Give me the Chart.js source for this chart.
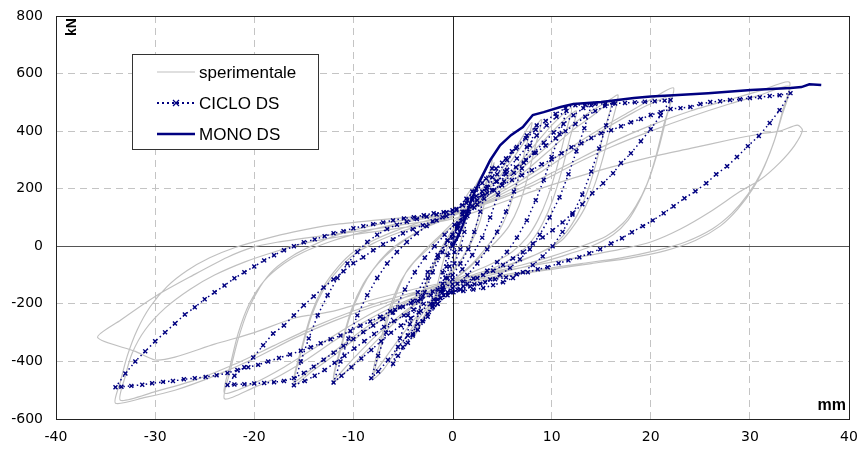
<!DOCTYPE html>
<html><head><meta charset="utf-8">
<script src="https://cdn.jsdelivr.net/npm/chart.js@4.4.1/dist/chart.umd.min.js"></script>
<style>html,body{margin:0;padding:0;background:#fff}#wrap{width:864px;height:460px}</style>
</head><body><div id="wrap"><canvas id="c" width="864" height="460"></canvas></div>
<script>
const xTicks = [-40,-30,-20,-10,0,10,20,30,40];
const yTicks = [-600,-400,-200,0,200,400,600,800];
const seriesNames = ["sperimentale","CICLO DS","MONO DS"];
const axisUnits = ["mm","kN"];

const monoDS = [[0,0],[0.5,30],[1,70],[1.5,120],[2,170],[2.8,230],[3.8,299],[4.8,351],[5.9,386],[7.1,414],[8.1,456],[9.2,466],[10.9,484],[12.2,494],[15,501],[18.3,515],[20,520],[22.3,525],[25.8,532],[30.1,543],[34.1,550],[35.2,553],[36,563],[37.2,560]];

const cicloDS = [
[0,0],[0.5,60],[1,110],
[0.6,40],[0.2,-20],[-0.3,-70],[-0.7,-110],[-1,-130],
[-0.6,-70],[0,10],[0.5,70],[1,120],[1.5,160],[2,190],
[1.6,120],[1.2,50],[0.8,-10],[0.2,-60],[-0.5,-110],[-1,-150],[-1.5,-185],[-2,-212],
[-1.5,-150],[-1,-90],[-0.5,-30],[0,30],[0.6,80],[1.2,120],[2,165],[3,220],[4,270],
[3.4,200],[2.8,120],[2.2,50],[1.6,-10],[0.8,-60],[0,-100],[-1,-150],[-2,-200],[-3,-260],[-4,-310],
[-3.4,-230],[-2.8,-160],[-2,-90],[-1,-20],[0,40],[1,90],[2,140],[3,190],[4,240],[5,290],[6,330],
[5.3,260],[4.6,180],[3.8,100],[3,30],[2,-30],[1,-80],[0,-115],[-1,-160],[-2,-210],[-3,-260],[-4,-305],[-5,-350],
[-4.3,-270],[-3.5,-190],[-2.5,-110],[-1.5,-40],[-0.5,20],[0.5,70],[1.5,115],[2.5,160],[3.5,205],[4.5,250],[5.5,300],[6.5,345],[7.5,385],[8.5,420],
[7.8,350],[7,270],[6.2,190],[5.4,120],[4.5,50],[3.5,-10],[2.5,-60],[1.5,-100],[0.5,-130],[-0.5,-160],[-1.5,-200],[-2.5,-245],[-3.5,-290],[-4.5,-335],[-5.5,-380],[-6,-408],
[-5.3,-320],[-4.5,-240],[-3.5,-160],[-2.5,-90],[-1.5,-30],[-0.5,20],[0.5,65],[1.5,105],[2.5,145],[3.5,185],[4.5,225],[5.5,265],[6.5,305],[7.5,345],[8.5,385],[9.5,420],[10.5,450],[11.5,470],
[10.8,390],[10,310],[9.2,230],[8.4,160],[7.5,90],[6.5,30],[5.5,-20],[4.5,-55],[3.5,-85],[2.5,-110],[1.5,-130],[0.5,-150],[-0.5,-170],[-1.5,-200],[-2.5,-235],[-3.5,-270],[-4.5,-310],[-5.5,-350],[-6.5,-395],[-7.5,-435],[-8.2,-458],
[-7.5,-380],[-6.7,-300],[-5.8,-220],[-4.8,-150],[-3.8,-90],[-2.8,-40],[-1.8,0],[-0.8,40],[0.2,75],[1.2,105],[2.2,135],[3.2,165],[4.2,195],[5.2,225],[6.2,255],[7.2,290],[8.2,325],[9.2,360],[10.2,395],[11.2,425],[12.2,455],[13.2,480],[14,490],
[13.3,410],[12.5,330],[11.7,250],[10.8,170],[9.8,100],[8.8,40],[7.8,-10],[6.8,-45],[5.8,-75],[4.8,-100],[3.8,-115],[2.8,-130],[1.8,-140],[0.8,-150],[-0.2,-160],[-1.2,-180],[-2.2,-200],[-3.2,-225],[-4.2,-250],[-5.2,-275],[-6.2,-300],[-7.2,-330],[-8.2,-360],[-9.2,-390],[-10.2,-420],[-11.2,-450],[-12,-473],
[-11.3,-400],[-10.5,-320],[-9.6,-240],[-8.6,-170],[-7.6,-110],[-6.6,-60],[-5.6,-20],[-4.6,15],[-3.6,45],[-2.6,70],[-1.6,90],[-0.6,105],[0.4,125],[1.4,150],[2.4,175],[3.4,200],[4.4,225],[5.4,250],[6.4,275],[7.4,300],[8.4,325],[9.4,350],[10.4,375],[11.4,400],[12.4,425],[13.4,450],[14.4,470],[15.4,487],[16.2,497],
[15.5,420],[14.8,340],[14,260],[13.1,180],[12.1,110],[11.1,50],[10.1,0],[9.1,-35],[8.1,-65],[7.1,-90],[6.1,-110],[5.1,-125],[4.1,-135],[3.1,-145],[2.1,-150],[1.1,-155],[0.1,-160],[-0.9,-170],[-1.9,-185],[-2.9,-200],[-3.9,-220],[-4.9,-240],[-5.9,-260],[-6.9,-280],[-7.9,-305],[-8.9,-330],[-9.9,-355],[-10.9,-380],[-11.9,-405],[-12.9,-430],[-13.9,-450],[-14.9,-468],[-16,-483],
[-15.3,-400],[-14.5,-320],[-13.6,-240],[-12.6,-170],[-11.6,-110],[-10.6,-60],[-9.6,-20],[-8.6,15],[-7.6,40],[-6.6,60],[-5.6,75],[-4.6,85],[-3.6,95],[-2.6,103],[-1.6,110],[-0.6,118],[0.4,130],[1.4,165],[2.4,200],[3.4,235],[4.4,270],[5.4,305],[6.4,340],[7.4,375],[8.4,405],[9.4,435],[10.4,460],[11.4,480],[12.4,490],[13.4,492],[14.4,494],[15.4,495],[16.4,496],[17.4,498],[18.4,500],[19.4,502],[20.4,504],[21.4,506],[22,508],
[21,455],[20,407],[19,365],[18,323],[17,289],[16.2,254],[15.2,219],[14.1,184],[13.1,146],[12.1,115],[11.1,83],[10.1,56],[9.1,31],[8.1,10],[7.1,-21],[6.1,-42],[5.1,-65],[4.1,-85],[3.1,-100],[2.1,-112],[1.1,-122],[0,-132],[-1,-143],[-2,-157],[-3,-172],[-4,-190],[-5,-210],[-6,-230],[-7,-252],[-8,-275],[-9,-298],[-10,-322],[-11,-346],[-12,-370],[-13,-394],[-14,-418],[-15,-440],[-16,-458],[-17,-468],[-18,-472],[-19,-475],[-20,-477],[-21,-479],[-22,-480],[-22.7,-482],
[-22,-450],[-21,-420],[-20.1,-386],[-19.1,-344],[-18.1,-303],[-17,-275],[-16,-240],[-15,-205],[-14,-174],[-13,-143],[-12,-115],[-11,-87],[-10,-59],[-9,-38],[-8,-14],[-7,7],[-6,24],[-5,45],[-4,59],[-3,73],[-2,87],[-1,101],[0,115],[1,143],[2,160],[3,177],[4,195],[5,212],[6,230],[7,247],[8,264],[9,285],[10,302],[11,323],[12,344],[13,358],[14,376],[15,393],[16,403],[17,417],[18,431],[19,442],[20,456],[21,466],[22,477],[23,480],[24,484],[25,494],[26,501],[27,504],[28,508],[29,511],[30,515],[31,518],[32,522],[33,525],[34.1,532],
[33,473],[32,428],[30.9,383],[29.8,348],[28.7,310],[27.7,278],[26.6,250],[25.6,219],[24.5,191],[23.4,167],[22.3,139],[21.3,115],[20.2,90],[19.2,70],[18.1,49],[17.1,28],[16,10],[14.9,-10],[13.8,-24],[12.8,-38],[11.7,-49],[10.7,-59],[9.6,-73],[8.6,-80],[7.6,-90],[6.5,-97],[5.4,-108],[4.3,-115],[3.3,-125],[2.2,-132],[1.1,-139],[0,-146],[-1.2,-157],[-2.2,-170],[-3.2,-184],[-4.2,-198],[-5.3,-212],[-6.3,-226],[-7.3,-245],[-8.3,-261],[-9.3,-276],[-10.3,-294],[-11.3,-310],[-12.3,-323],[-13.3,-337],[-14.3,-351],[-15.3,-363],[-16.4,-376],[-17.5,-388],[-18.6,-400],[-19.6,-412],[-20.6,-420],[-21.7,-430],[-22.7,-440],[-23.8,-448],[-24.9,-454],[-26,-458],[-27.1,-462],[-28.2,-468],[-29.2,-471],[-30.3,-476],[-31.3,-481],[-32.4,-485],[-33.4,-488],[-34,-490],
[-33,-442],[-32,-400],[-31,-365],[-30,-330],[-29,-299],[-28,-268],[-27,-237],[-26,-212],[-25,-184],[-24,-160],[-23,-136],[-22,-111],[-21,-90],[-20,-70],[-19,-49],[-18,-31],[-17,-14],[-16,0],[-15,14],[-13.9,24],[-12.9,35],[-12,45],[-11,52],[-10,63],[-9,70],[-8,77],[-7,83],[-6,90],[-4.9,97],[-3.9,101],[-2.9,108],[-1.9,115],[-0.9,118],[0,125]
];

const sperimentale = [
[0,0],[0.5,80],[1,140],[1.5,180],[2,200],[1.5,120],[1,40],[0.5,-20],[0,-70],[-1,-140],[-2,-210],
[-1.5,-130],[-1,-60],[-0.5,0],[0,50],[1,120],[2,190],[3,250],[4,300],
[3.3,200],[2.6,100],[2,30],[1,-40],[0,-90],[-1,-140],[-2,-200],[-3,-260],[-4,-320],
[-3.3,-220],[-2.5,-120],[-1.5,-40],[-0.5,20],[0.5,70],[1.5,120],[2.5,170],[3.5,230],[4.2,290],
[3.5,190],[2.8,90],[2,20],[1,-40],[0,-85],[-1,-135],[-2,-190],[-3,-250],[-4,-310],
[-3.3,-210],[-2.5,-110],[-1.5,-30],[-0.5,30],[0.5,80],[2,140],[4,220],[6,320],[8,430],
[7.3,330],[6.5,220],[5.7,130],[4.8,60],[3.5,0],[2,-60],[0,-120],[-2,-190],[-4,-280],[-6,-380],[-7,-430],[-8,-460],
[-7.3,-360],[-6.5,-250],[-5.5,-150],[-4.5,-80],[-3,-20],[-1.5,30],[0,80],[2,140],[4,210],[6,300],[8,400],[9,440],
[8.3,340],[7.5,230],[6.7,140],[5.7,70],[4.5,20],[3,-30],[1.5,-80],[0,-120],[-2,-180],[-4,-260],[-6,-350],[-8,-440],
[-7.2,-320],[-6.3,-210],[-5.2,-120],[-4,-60],[-2.5,-10],[-1,40],[0.5,85],[2,130],[4,190],[6,260],[8,340],[10,420],[12,480],
[11.3,380],[10.5,270],[9.6,170],[8.6,90],[7.5,30],[6,-20],[4,-60],[2,-90],[0,-120],[-2,-160],[-4,-210],[-6,-270],[-8,-340],[-10,-410],[-12,-470],
[-11.2,-350],[-10.3,-240],[-9.2,-150],[-8,-80],[-6.5,-20],[-5,20],[-3,60],[-1,90],[1,120],[3,165],[5,220],[7,290],[9,360],[11,430],[12.5,470],
[11.8,370],[11,260],[10.1,160],[9.1,80],[8,20],[6.5,-30],[4.5,-70],[2,-100],[0,-125],[-2,-160],[-4,-205],[-6,-260],[-8,-320],[-10,-390],[-12,-460],
[-11.2,-340],[-10.2,-220],[-9,-130],[-7.5,-60],[-6,-10],[-4,40],[-2,80],[0,105],[2,140],[4,185],[6,240],[8,300],[10,360],[12,420],[14,470],[15.5,500],[16.7,525],
[16,420],[15.2,310],[14.3,210],[13.3,130],[12.2,70],[11,20],[9,-20],[6,-60],[3,-95],[0,-125],[-3,-170],[-6,-230],[-9,-300],[-12,-380],[-14,-430],[-16,-480],
[-15.2,-360],[-14.2,-240],[-13,-150],[-11.5,-80],[-10,-30],[-8,10],[-6,40],[-4,65],[-2,85],[0,105],[2,135],[4,175],[6,225],[8,280],[10,340],[12,400],[14,450],[16,500],
[15.3,400],[14.5,290],[13.6,190],[12.6,110],[11.5,50],[10,0],[7,-50],[4,-85],[1,-115],[-2,-150],[-5,-200],[-8,-265],[-11,-340],[-14,-420],[-16,-470],
[-15.2,-350],[-14.2,-230],[-13,-140],[-11.5,-70],[-10,-20],[-8,20],[-6,50],[-4,75],[-2,95],[0,115],[3,155],[6,210],[9,275],[12,345],[15,410],[18,470],[20,510],[22.3,550],
[21.6,450],[20.8,340],[19.9,240],[18.9,160],[17.7,90],[16.2,40],[14,0],[11,-35],[8,-65],[5,-90],[2,-115],[0,-130],[-3,-165],[-6,-210],[-9,-265],[-12,-330],[-15,-400],[-18,-460],[-20,-490],[-23,-530],
[-22.4,-430],[-21.6,-320],[-20.6,-220],[-19.4,-140],[-18,-80],[-16,-30],[-14,5],[-12,35],[-9,65],[-6,85],[-3,100],[0,115],[3,150],[6,200],[9,260],[12,330],[15,400],[18,460],[20,495],[22,520],
[21.3,420],[20.5,310],[19.6,215],[18.5,140],[17.2,80],[15.5,35],[13,0],[10,-35],[7,-65],[4,-90],[1,-115],[-2,-140],[-5,-180],[-8,-230],[-11,-290],[-14,-355],[-17,-420],[-20,-475],[-23,-510],
[-22.4,-410],[-21.6,-300],[-20.5,-200],[-19,-120],[-17,-60],[-15,-20],[-12,20],[-9,50],[-6,75],[-3,95],[0,115],[4,160],[8,220],[12,290],[16,360],[20,420],[24,470],[28,510],[31,540],[34,570],
[33.3,470],[32.5,370],[31.5,280],[30.3,200],[28.8,130],[27,70],[24.5,20],[21.5,-15],[18,-40],[14,-60],[10,-80],[6,-100],[2,-125],[0,-140],[-4,-170],[-8,-210],[-12,-260],[-16,-320],[-20,-390],[-24,-450],[-28,-500],[-31,-525],[-34,-545],
[-33.5,-470],[-32.8,-380],[-31.8,-290],[-30.5,-210],[-28.8,-140],[-26.8,-85],[-24.5,-40],[-22,-5],[-19,25],[-16,50],[-12,75],[-8,90],[-4,102],[0,112],[4,155],[8,210],[12,280],[16,345],[20,400],[24,450],[28,495],[31,525],[34,555],
[33.2,450],[32.3,350],[31.2,260],[29.8,180],[28.2,115],[26.2,60],[23.5,15],[20.5,-15],[17,-40],[13,-60],[9,-80],[5,-100],[1,-125],[-2,-145],[-6,-180],[-10,-225],[-14,-280],[-18,-345],[-22,-410],[-26,-465],[-30,-505],[-33.5,-535],
[-33,-450],[-32.3,-370],[-31,-290],[-29,-215],[-26.5,-150],[-24,-100],[-21,-55],[-18,-20],[-15,10],[-12,30],[-8,50],[-4,70],[0,95],[4,140],[8,190],[12,235],[16,275],[20,310],[24,340],[28,370],[31,390],[33,400],[34.8,421],[35.3,403],
[34.5,350],[33,290],[31,230],[29,190],[26,120],[23,60],[20,15],[17,-10],[14,-30],[10,-55],[6,-80],[2,-105],[0,-120],[-4,-150],[-8,-185],[-12,-225],[-16,-250],[-20,-300],[-24,-340],[-28,-385],[-30,-395],[-32,-365],[-35.8,-317],
[-33.5,-257],[-29.8,-170],[-26.2,-101],[-22.7,-38],[-20.1,-3],[-17.7,14],[-14.3,31],[-10,50],[-5,75],[0,100]
];

const toXY = a => a.map(p => ({x:p[0], y:p[1]}));
const NAVY = '#000080', GRAY = '#c0c0c0';

const framePlugin = {
  id:'frame',
  beforeDatasetsDraw(chart){
    const {ctx, chartArea:a, scales:{x,y}} = chart;
    ctx.save();
    ctx.strokeStyle = '#222'; ctx.lineWidth = 1;
    const x0 = Math.round(x.getPixelForValue(0))+0.5, y0 = Math.round(y.getPixelForValue(0))+0.5;
    ctx.beginPath(); ctx.moveTo(x0,a.top); ctx.lineTo(x0,a.bottom); ctx.stroke();
    ctx.strokeStyle = '#555';
    ctx.beginPath(); ctx.moveTo(a.left,y0); ctx.lineTo(a.right,y0); ctx.stroke();
    ctx.restore();
  },
  afterDatasetsDraw(chart){
    const {ctx, chartArea:a} = chart;
    ctx.save();
    ctx.strokeStyle = '#222'; ctx.lineWidth = 1;
    ctx.strokeRect(Math.round(a.left)+0.5, Math.round(a.top)+0.5, Math.round(a.right-a.left), Math.round(a.bottom-a.top));
    ctx.fillStyle = '#000';
    ctx.font = 'bold 16px "Liberation Sans", Arial, sans-serif';
    ctx.textAlign = 'right'; ctx.textBaseline = 'alphabetic';
    ctx.fillText(axisUnits[0], a.right-3, a.bottom-9);
    ctx.save();
    ctx.translate(a.left+16, a.top+11);
    ctx.rotate(-Math.PI/2);
    ctx.font = 'bold 14px "Liberation Sans", Arial, sans-serif';
    ctx.textAlign = 'center'; ctx.textBaseline = 'middle';
    ctx.fillText(axisUnits[1], 0, 0);
    ctx.restore();
    const lx = 132.5, ly = 54.5, lw = 186, lh = 95;
    ctx.fillStyle = '#fff'; ctx.fillRect(lx, ly, lw, lh);
    ctx.strokeStyle = '#333'; ctx.strokeRect(lx, ly, lw, lh);
    const rows = [72, 103, 134];
    ctx.font = '17px "Liberation Sans", Arial, sans-serif';
    ctx.textAlign = 'left'; ctx.textBaseline = 'middle';
    ctx.strokeStyle = GRAY; ctx.lineWidth = 1.2; ctx.setLineDash([]);
    ctx.beginPath(); ctx.moveTo(157, rows[0]); ctx.lineTo(195, rows[0]); ctx.stroke();
    ctx.strokeStyle = NAVY; ctx.lineWidth = 2; ctx.setLineDash([2,3]);
    ctx.beginPath(); ctx.moveTo(157, rows[1]); ctx.lineTo(195, rows[1]); ctx.stroke();
    ctx.setLineDash([]); ctx.lineWidth = 1.3;
    ctx.beginPath(); ctx.moveTo(173, rows[1]-3); ctx.lineTo(179, rows[1]+3); ctx.moveTo(173, rows[1]+3); ctx.lineTo(179, rows[1]-3); ctx.stroke();
    ctx.lineWidth = 2.5;
    ctx.beginPath(); ctx.moveTo(157, rows[2]); ctx.lineTo(195, rows[2]); ctx.stroke();
    ctx.fillStyle = '#000';
    seriesNames.forEach((n,i)=>ctx.fillText(n, 199, rows[i]+1));
    ctx.restore();
  }
};

new Chart(document.getElementById('c'), {
  type:'scatter',
  data:{datasets:[
    {label:seriesNames[2], data:toXY(monoDS), showLine:true, borderColor:NAVY, borderWidth:2.5, pointRadius:0, tension:0},
    {label:seriesNames[1], data:toXY(cicloDS), showLine:true, borderColor:NAVY, borderWidth:1.5, borderDash:[1.5,3], pointStyle:'crossRot', pointRadius:2.8, pointBorderWidth:1.4, pointBorderColor:NAVY, pointBackgroundColor:NAVY, tension:0},
    {label:seriesNames[0], data:toXY(sperimentale), showLine:true, borderColor:GRAY, borderWidth:1.2, pointRadius:0, tension:0.25}
  ]},
  options:{
    responsive:false, animation:false, events:[],
    layout:{padding:{top:16,right:15,left:0,bottom:0}},
    plugins:{legend:{display:false}, tooltip:{enabled:false}},
    scales:{
      x:{type:'linear', min:-40, max:40, afterBuildTicks:s=>{s.ticks=xTicks.map(v=>({value:v}));},
         afterFit:s=>{s.height=41; s.paddingLeft=0; s.paddingRight=0;},
         grid:{drawTicks:false, color:c=>(c.tick&&(c.tick.value===0||Math.abs(c.tick.value)===40))?'rgba(0,0,0,0)':'#c4c4c4', lineWidth:1},
         border:{display:false, dash:[7,5]},
         ticks:{padding:10, color:'#000', font:{family:'"DejaVu Sans", sans-serif', size:14}, maxRotation:0}},
      y:{type:'linear', min:-600, max:800, afterBuildTicks:s=>{s.ticks=yTicks.map(v=>({value:v}));},
         afterFit:s=>{s.width=56; s.paddingTop=0; s.paddingBottom=0;},
         grid:{drawTicks:false, color:c=>(c.tick&&(c.tick.value===0||c.tick.value===800||c.tick.value===-600))?'rgba(0,0,0,0)':'#c4c4c4', lineWidth:1},
         border:{display:false, dash:[7,5]},
         ticks:{padding:13, color:'#000', font:{family:'"DejaVu Sans", sans-serif', size:14}}}
    }
  },
  plugins:[framePlugin]
});
</script>
</body></html>
